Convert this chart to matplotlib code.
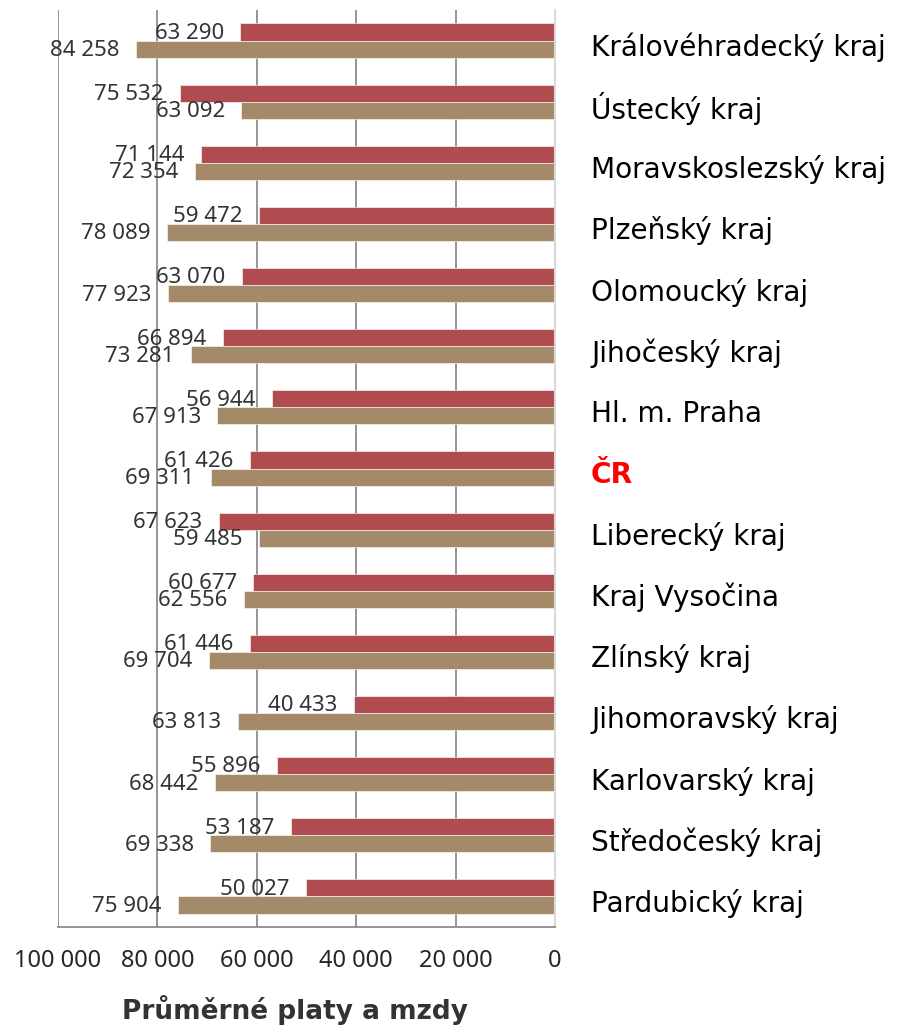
import matplotlib
matplotlib.use("Agg")
import matplotlib.pyplot as plt
import numpy as np

kraje = ["Královéhradecký kraj", "Ústecký kraj", "Moravskoslezský kraj", "Plzeňský kraj",
         "Olomoucký kraj", "Jihočeský kraj", "Hl. m. Praha", "ČR", "Liberecký kraj",
         "Kraj Vysočina", "Zlínský kraj", "Jihomoravský kraj", "Karlovarský kraj",
         "Středočeský kraj", "Pardubický kraj"]
platy = [63290, 75532, 71144, 59472, 63070, 66894, 56944, 61426, 67623,
         60677, 61446, 40433, 55896, 53187, 50027]
mzdy = [84258, 63092, 72354, 78089, 77923, 73281, 67913, 69311, 59485,
        62556, 69704, 63813, 68442, 69338, 75904]
x_ticks = [100000, 80000, 60000, 40000, 20000, 0]

red = "#B04C4F"
tan = "#A48A68"
num_font = ["Noto Sans", "DejaVu Sans"]


def fmt(v):
    return f"{v:,}".replace(",", " ")


fig = plt.figure(figsize=(9.21, 10.26), dpi=100)
ax = fig.add_axes([58 / 921, 1 - 927 / 1026, (555 - 58) / 921, (927 - 10) / 1026])

y = np.arange(len(kraje))
h = 0.28
b1 = ax.barh(y - h / 2, platy, height=h, color=red, edgecolor="white", linewidth=0.4)
b2 = ax.barh(y + h / 2, mzdy, height=h, color=tan, edgecolor="white", linewidth=0.4)

for bars, vals in ((b1, platy), (b2, mzdy)):
    for rect, v in zip(bars, vals):
        ax.annotate(fmt(v), (v, rect.get_y() + rect.get_height() / 2),
                    xytext=(-12, -1), textcoords="offset points",
                    ha="right", va="center", fontsize=16, color="#333333",
                    family=num_font)

ax.set_xlim(100000, 0)
ax.set_ylim(len(kraje) - 0.5, -0.5)
ax.set_xticks(x_ticks)
ax.set_xticklabels([fmt(v) for v in x_ticks], fontsize=17, color="#262626",
                   family=num_font)
ax.tick_params(axis="x", length=0, pad=16)

# category names on the right side
ax.set_yticks(y)
ax.set_yticklabels([])
ax.tick_params(axis="y", length=0)
for i, name in enumerate(kraje):
    cr = name == "ČR"
    ax.annotate(name, (1, i), xycoords=("axes fraction", "data"),
                xytext=(26, -5), textcoords="offset points",
                ha="left", va="center", fontsize=20.2,
                color="red" if cr else "black",
                fontweight="bold" if cr else "normal")

ax.grid(axis="x", color="#8c8c8c", linewidth=1.3)
ax.grid(axis="y", visible=False)
ax.set_axisbelow(True)
for s in ("top", "left"):
    ax.spines[s].set_visible(False)
ax.spines["bottom"].set_color("#8c8c8c")
ax.spines["bottom"].set_linewidth(1.3)
ax.spines["right"].set_color("#d9d9d9")
ax.spines["right"].set_linewidth(1.5)

ax.set_xlabel("Průměrné platy a mzdy", fontsize=19, fontweight="bold",
              color="#333333", labelpad=16)
ax.xaxis.label.set_x(0.477)

fig.savefig("out.png", dpi=100)
